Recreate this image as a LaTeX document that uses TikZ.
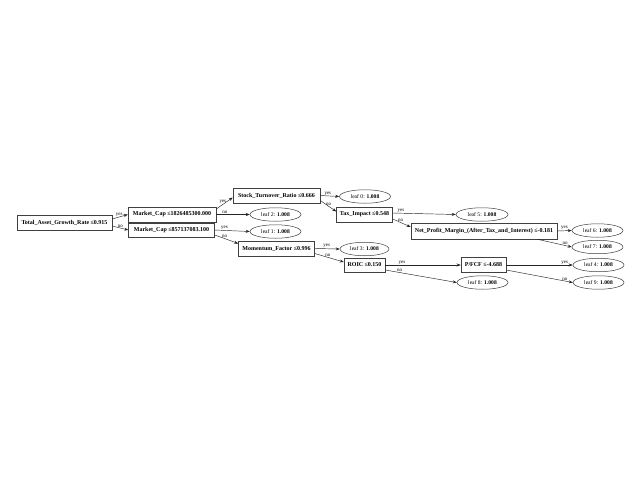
\documentclass[tikz,border=0pt]{standalone}
\usepackage{fontspec}
\setmainfont{Liberation Serif}
\usetikzlibrary{shapes.geometric,arrows.meta}
\tikzset{
  box/.style={draw=black!75, line width=0.5pt, rectangle, inner sep=0pt, minimum height=15pt,
    font=\bfseries\fontsize{6}{7}\selectfont},
  leaf/.style={draw=black!75, line width=0.5pt, ellipse, inner sep=0pt, minimum width=51pt, minimum height=13.5pt,
    font=\fontsize{5.6}{7}\selectfont},
  edge/.style={draw=black!85, line width=0.45pt, -{Stealth[length=4pt,width=3pt]}},
  lab/.style={font=\fontsize{5}{5}\selectfont, inner sep=0.6pt, anchor=south}
}
\begin{document}
\begin{tikzpicture}[x=1pt,y=-1pt]
\path[use as bounding box, fill=white] (0,0) rectangle (640,480);
% nodes
\node[box, minimum width=95pt] (T) at (64.5,223) {Total\_Asset\_Growth\_Rate ≤0.915};
\node[box, minimum width=88pt] (M1) at (172,214.5) {Market\_Cap ≤1826485300.000};
\node[box, minimum width=86pt, minimum height=14pt] (M2) at (171.5,230) {Market\_Cap ≤857137083.100};
\node[box, minimum width=87pt] (S) at (276.5,195.5) {Stock\_Turnover\_Ratio ≤0.666};
\node[leaf] (L0) at (365,196.5) {leaf 0: \textbf{1.008}};
\node[leaf] (L2) at (275.5,214.5) {leaf 2: \textbf{1.008}};
\node[leaf] (L1) at (275.5,231.5) {leaf 1: \textbf{1.008}};
\node[box, minimum width=76pt] (MF) at (276.5,248.5) {Momentum\_Factor ≤0.996};
\node[leaf, minimum width=49pt] (L3) at (364.5,249) {leaf 3: \textbf{1.008}};
\node[box, minimum width=56pt] (TX) at (364.5,214.5) {Tax\_Impact ≤0.548};
\node[leaf, minimum width=52pt] (L5) at (482,214.5) {leaf 5: \textbf{1.008}};
\node[box, minimum width=146pt, minimum height=16pt] (NP) at (484,231) {Net\_Profit\_Margin\_(After\_Tax\_and\_Interest) ≤-0.181};
\node[leaf] (L6) at (597.5,230.5) {leaf 6: \textbf{1.008}};
\node[leaf] (L7) at (597.5,247) {leaf 7: \textbf{1.008}};
\node[box, minimum width=41pt, minimum height=14pt] (RO) at (364.5,265) {ROIC ≤0.150};
\node[box, minimum width=45pt] (PF) at (483.5,265) {P/FCF ≤-4.688};
\node[leaf] (L8) at (482.5,282.5) {leaf 8: \textbf{1.008}};
\node[leaf] (L4) at (598.5,265) {leaf 4: \textbf{1.008}};
\node[leaf] (L9) at (598.5,282.5) {leaf 9: \textbf{1.008}};
% edges
\draw[edge] ([yshift=4pt]T.east) -- node[lab,pos=0.45] {yes} (M1.west);
\draw[edge] ([yshift=-3pt]T.east) -- node[lab,pos=0.5] {no} (M2.west);
\draw[edge] ([yshift=5.5pt]M1.east) -- node[lab,pos=0.4] {yes} ([yshift=-2pt]S.west);
\draw[edge] (M1.east) -- node[lab,pos=0.26] {no} (L2.west);
\draw[edge] (M2.east) -- node[lab,pos=0.28] {yes} (L1.west);
\draw[edge] ([yshift=-5pt]M2.east) -- node[lab,pos=0.42] {no} ([yshift=5pt]MF.west);
\draw[edge] (S.east) -- node[lab,pos=0.4] {yes} (L0.west);
\draw[edge] ([yshift=-5pt]S.east) -- node[lab,pos=0.53] {no} ([yshift=3pt]TX.west);
\draw[edge] (MF.east) -- node[lab,pos=0.48] {yes} (L3.west);
\draw[edge] ([yshift=-5pt]MF.east) -- node[lab,pos=0.45] {no} ([yshift=3pt]RO.west);
\draw[edge] ([yshift=1.5pt]TX.east) -- node[lab,pos=0.13] {yes} (L5.west);
\draw[edge] ([yshift=-4.5pt]TX.east) -- node[lab,pos=0.44] {no} ([yshift=4pt]NP.west);
\draw[edge] (NP.east) -- node[lab,pos=0.5] {yes} (L6.west);
\draw[edge] ([xshift=-20pt]NP.south east) -- node[lab,pos=0.81] {no} (L7.west);
\draw[edge] (RO.east) -- node[lab,pos=0.22] {yes} (PF.west);
\draw[edge] ([yshift=-5pt]RO.east) -- node[lab,pos=0.2] {no} (L8.west);
\draw[edge] (PF.east) -- node[lab,pos=0.88] {yes} (L4.west);
\draw[edge] ([yshift=-5pt]PF.east) -- node[lab,pos=0.88] {no} (L9.west);
\end{tikzpicture}
\end{document}
